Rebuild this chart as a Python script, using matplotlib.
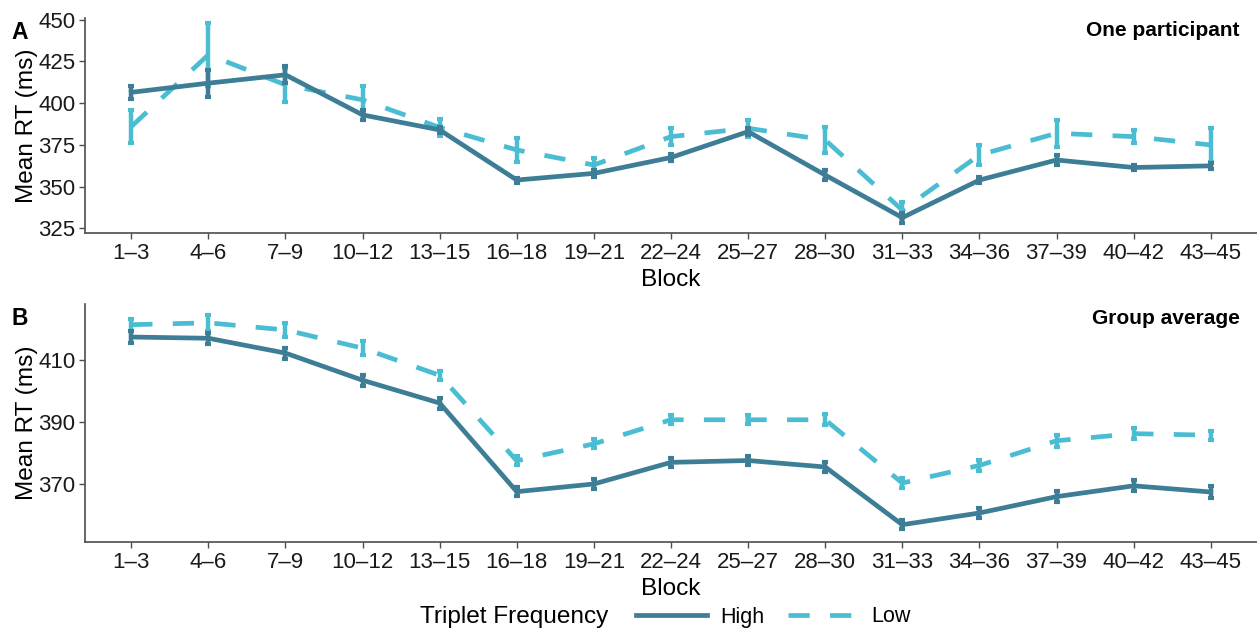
import numpy as np
import matplotlib
matplotlib.use("Agg")
import matplotlib.pyplot as plt
from matplotlib.lines import Line2D

plt.rcParams["font.family"] = ["Liberation Sans", "DejaVu Sans"]

blocks = ["1\u20133", "4\u20136", "7\u20139", "10\u201312", "13\u201315", "16\u201318",
          "19\u201321", "22\u201324", "25\u201327", "28\u201330", "31\u201333", "34\u201336",
          "37\u201339", "40\u201342", "43\u201345"]

# panel A: one participant
a_high     = [406.5, 412, 417, 393, 384, 354, 358, 367.5, 383, 357, 331.5, 354, 366, 361.5, 362.5]
a_high_err = [4, 8, 5, 3, 2, 1.5, 2, 2, 2, 3, 3, 2, 3, 1.5, 2]
a_low      = [386, 429, 411, 402, 385.5, 372, 363, 380, 385, 378, 336, 369, 382, 380, 375]
a_low_err  = [10, 19, 10, 8, 5, 7, 4, 5, 5, 8, 5, 6, 8, 4, 10]

# panel B: group average
b_high     = [417.6, 417.2, 412.4, 403.6, 396.2, 367.5, 370, 377, 377.6, 375.5, 356.8, 360.6, 365.9, 369.4, 367.4]
b_high_err = [2, 1.8, 1.8, 1.8, 1.8, 1.5, 1.5, 1.5, 1.5, 1.5, 1.5, 1.5, 1.8, 1.8, 1.8]
b_low      = [421.6, 422.2, 419.9, 414, 405.2, 377.5, 383, 390.8, 390.8, 390.8, 370.3, 376, 384, 386.3, 385.8]
b_low_err  = [2, 2.5, 2.2, 2.2, 1.5, 1.5, 1.5, 1.5, 1.5, 1.8, 1.5, 1.8, 2, 1.8, 1.5]

HIGH_C = "#3D7D96"
LOW_C  = "#4BBDD3"
AXIS_C = "#4d4d4d"
DASH   = (4.5, 4.3)


def draw_panel(ax, high, high_err, low, low_err, ylim, yticks, tag, title):
    x = np.arange(len(blocks))
    ax.errorbar(x, low, yerr=low_err, color=LOW_C, lw=3.4, dashes=DASH,
                elinewidth=3.2, capsize=2.5, capthick=3.0, zorder=2)
    ax.errorbar(x, high, yerr=high_err, color=HIGH_C, lw=3.4,
                elinewidth=3.2, capsize=2.5, capthick=3.0, zorder=3)
    ax.set_xlim(-0.6, len(blocks) - 1 + 0.6)
    ax.set_ylim(*ylim)
    ax.set_yticks(yticks)
    ax.set_xticks(x)
    ax.set_xticklabels(blocks)
    for side in ("top", "right"):
        ax.spines[side].set_visible(False)
    for side in ("left", "bottom"):
        ax.spines[side].set_color(AXIS_C)
        ax.spines[side].set_linewidth(1.2)
    ax.tick_params(colors=AXIS_C, labelcolor="#1a1a1a", labelsize=16,
                   length=4, width=1.0, pad=3)
    ax.set_xlabel("Block", fontsize=17.6, labelpad=4)
    ax.set_ylabel("Mean RT (ms)", fontsize=17.6, labelpad=0)
    ax.text(0.985, 0.94, title, transform=ax.transAxes, ha="right", va="center",
            fontsize=15, fontweight="bold")
    ax.figure.text(0.009, ax.get_position().y1 - 0.004, tag, fontsize=16.5,
                   fontweight="bold", va="top")


fig = plt.figure(figsize=(12.57, 6.31), dpi=100)
W, H = 1257, 631
axA = fig.add_axes([85 / W, 1 - 233 / H, (1257 - 85) / W, (233 - 18) / H])
axB = fig.add_axes([85 / W, 1 - 542 / H, (1257 - 85) / W, (542 - 304) / H])

draw_panel(axA, a_high, a_high_err, a_low, a_low_err, (322.3, 451),
           [325, 350, 375, 400, 425, 450], "A", "One participant")
draw_panel(axB, b_high, b_high_err, b_low, b_low_err, (351.2, 428.3),
           [370, 390, 410], "B", "Group average")

# legend: title on the left, keys in one row
fig.text(420 / W, 1 - 617 / H, "Triplet Frequency", fontsize=17.6, va="center", ha="left")
handles = [Line2D([], [], color=HIGH_C, lw=3.4),
           Line2D([], [], color=LOW_C, lw=3.4, dashes=DASH)]
fig.legend(handles, ["High", "Low"], loc="center left",
           bbox_to_anchor=(636 / W, 1 - 617 / H), ncol=2, frameon=False,
           fontsize=15.5, handlelength=3.3, columnspacing=1.1, handletextpad=0.6,
           borderaxespad=0, borderpad=0)

fig.savefig("out.png", dpi=100)
